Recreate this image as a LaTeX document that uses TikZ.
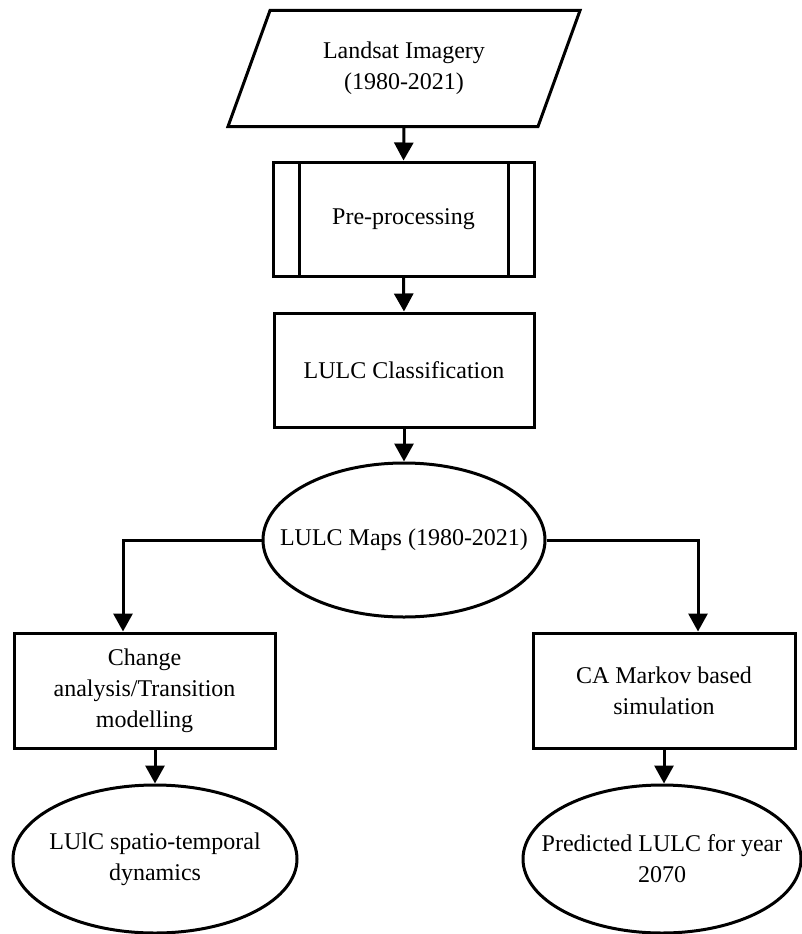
\documentclass[tikz,border=0pt]{standalone}
\usepackage{fontspec}
\setmainfont{Liberation Serif}
\usetikzlibrary{shapes.geometric, arrows.meta, positioning}

\begin{document}
\begin{tikzpicture}[x=1pt, y=-1pt, line width=3pt,
		every node/.style={font=\fontsize{24}{31}\selectfont, align=center},
		box/.style={draw, rectangle, minimum width=261pt, minimum height=114pt, inner sep=0pt},
		procbox/.style={box, path picture={
				\draw ([xshift=26pt]path picture bounding box.north west) -- ([xshift=26pt]path picture bounding box.south west);
				\draw ([xshift=-26pt]path picture bounding box.north east) -- ([xshift=-26pt]path picture bounding box.south east);
			}},
		oval/.style={draw, ellipse, inner sep=0pt},
		txt/.style={inner sep=0pt},
		arr/.style={-{Triangle[length=18pt, width=19pt]}}
	]
	\useasboundingbox (0,0) rectangle (801,934);
	
	\node[txt, minimum width=307pt, minimum height=113pt] (img) at (404,68.5) {Landsat Imagery\\(1980-2021)};
	\draw ([xshift=21pt]img.north west) -- ([xshift=21pt]img.north east) -- ([xshift=-21pt]img.south east) -- ([xshift=-21pt]img.south west) -- cycle;
	
	\node[procbox] (pre) at (403.5,219) {Pre-processing};
	\node[box, minimum width=260pt] (cls) at (404,370) {LULC Classification};
	
	\node[oval, minimum width=282pt, minimum height=154pt] (maps) at (404,540) {};
	\node[txt] (mapstxt) at (maps) {LULC Maps (1980-2021)};
	
	\node[box, minimum height=115pt] (chg) at (144.5,690.5) {Change\\analysis/Transition\\modelling};
	\node[box, minimum width=262pt, minimum height=115pt] (ca) at (664,690.5) {CA Markov based\\simulation};
	
	\node[oval, minimum width=284pt, minimum height=148pt] (dyn) at (155,859) {};
	\node[txt] (dyntxt) at (dyn) {LUlC spatio-temporal\\dynamics};
	\node[oval, minimum width=278pt, minimum height=148pt] (pred) at (662,859) {};
	\node[txt] (predtxt) at (pred) {Predicted LULC for year\\2070};
	
	\coordinate (lturn) at (123,540);
	\coordinate (rturn) at (698,540);
	
	\draw[arr] (img.south) -- (pre.north);
	\draw[arr] (pre.south) -- (cls.north);
	\draw[arr] (cls.south) -- (maps.north);
	\draw[arr] (maps.west) -- (lturn) -- (lturn |- chg.north);
	\draw[arr] (maps.east) -- (rturn) -- (rturn |- ca.north);
	\draw[arr] (chg.south -| dyn.north) -- (dyn.north);
	\draw[arr] (ca.south) -- (ca.south |- pred.north);
\end{tikzpicture}
\end{document}
